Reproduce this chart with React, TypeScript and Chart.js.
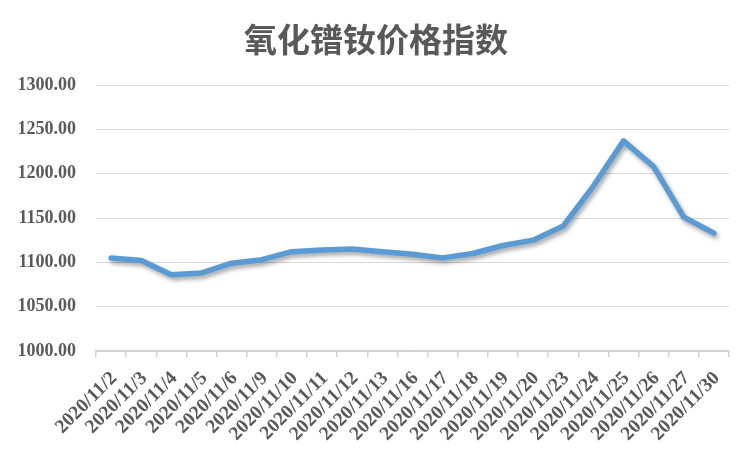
import React, { useEffect, useRef } from "react";
import { Chart, registerables } from "chart.js";

Chart.register(...registerables);

const TITLE = "氧化镨钕价格指数";
const categories = [
  "2020/11/2", "2020/11/3", "2020/11/4", "2020/11/5", "2020/11/6", "2020/11/9",
  "2020/11/10", "2020/11/11", "2020/11/12", "2020/11/13", "2020/11/16", "2020/11/17",
  "2020/11/18", "2020/11/19", "2020/11/20", "2020/11/23", "2020/11/24", "2020/11/25",
  "2020/11/26", "2020/11/27", "2020/11/30",
];
const priceIndex = [
  1105, 1102, 1086, 1088, 1099, 1103, 1112, 1114, 1115, 1112, 1109, 1105,
  1110, 1119, 1125, 1141, 1186, 1237, 1208, 1151, 1133,
];
const yMin = 1000;
const yMax = 1300;
const yStep = 50;

const textColor = "#595959";

const shadowPlugin = {
  id: "lineShadow",
  beforeDatasetDraw(chart: any) {
    const ctx = chart.ctx;
    ctx.save();
    ctx.shadowColor = "rgba(0,0,0,0.35)";
    ctx.shadowBlur = 4;
    ctx.shadowOffsetX = 2;
    ctx.shadowOffsetY = 3;
  },
  afterDatasetDraw(chart: any) {
    chart.ctx.restore();
  },
};

const titlePlugin = {
  id: "centeredTitle",
  afterDraw(chart: any) {
    const ctx = chart.ctx;
    ctx.save();
    ctx.fillStyle = textColor;
    ctx.font = "bold 33px 'Noto Sans CJK SC', sans-serif";
    ctx.textAlign = "center";
    ctx.textBaseline = "middle";
    ctx.fillText(TITLE, chart.width / 2, 39);
    ctx.restore();
  },
};

export default function App() {
  const ref = useRef<HTMLCanvasElement | null>(null);
  useEffect(() => {
    if (!ref.current) return;
    const chart = new Chart(ref.current, {
      type: "line",
      data: {
        labels: categories,
        datasets: [
          {
            data: priceIndex,
            borderColor: "#5B9BD5",
            borderWidth: 5.5,
            pointRadius: 0,
            tension: 0,
            borderJoinStyle: "round",
            borderCapStyle: "round",
            fill: false,
          },
        ],
      },
      options: {
        responsive: false,
        animation: false,
        devicePixelRatio: 1,
        layout: { padding: { left: 0, right: 23, top: 85, bottom: 0 } },
        plugins: {
          legend: { display: false },
          tooltip: { enabled: false },
          title: { display: false },
        },
        scales: {
          x: {
            offset: true,
            grid: {
              offset: true,
              drawOnChartArea: false,
              drawTicks: true,
              tickLength: 6,
              color: "#d0d0d0",
              lineWidth: 1.5,
            },
            border: { display: true, color: "#d0d0d0", width: 1.5 },
            ticks: {
              autoSkip: false,
              maxRotation: 45,
              minRotation: 45,
              padding: 10,
              labelOffset: 3,
              color: textColor,
              font: { family: "'Liberation Serif', 'Times New Roman', serif", size: 19.5, weight: "bold" },
            },
            afterFit(scale: any) {
              scale.height = 100;
            },
          },
          y: {
            min: yMin,
            max: yMax,
            grid: { color: "#d9d9d9", lineWidth: 1, drawTicks: false },
            border: { display: false },
            ticks: {
              stepSize: yStep,
              padding: 20,
              color: textColor,
              font: { family: "'Liberation Serif', 'Times New Roman', serif", size: 18, weight: "bold" },
              callback: (v: any) => Number(v).toFixed(2),
            },
            afterFit(scale: any) {
              scale.width = 96;
            },
          },
        },
      },
      plugins: [shadowPlugin, titlePlugin],
    });
    return () => chart.destroy();
  }, []);
  return (
    <div style={{ position: "absolute", left: 0, top: 0, width: 752, height: 451, background: "#fff" }}>
      <canvas ref={ref} width={752} height={451} />
    </div>
  );
}
